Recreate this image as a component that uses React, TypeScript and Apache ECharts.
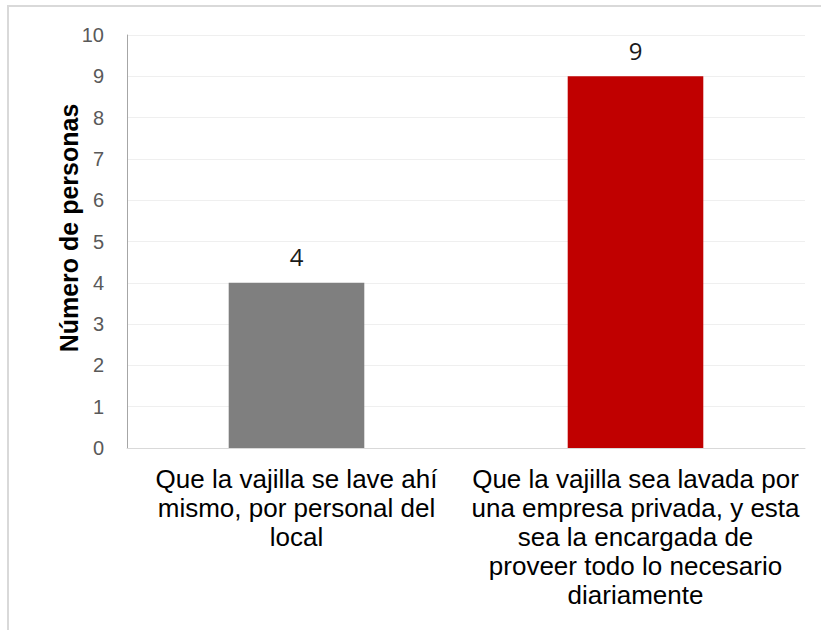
import React, { useEffect, useRef } from "react";
import * as echarts from "echarts";

const categories = [
  "Que la vajilla se lave ahí\nmismo, por personal del\nlocal",
  "Que la vajilla sea lavada por\nuna empresa privada, y esta\nsea la encargada de\nproveer todo lo necesario\ndiariamente",
];
const values = [4, 9];
const barColors = ["#7f7f7f", "#c00000"];
const yAxisTitle = "Número de personas";

export default function App() {
  const ref = useRef<HTMLDivElement>(null);
  useEffect(() => {
    if (!ref.current) return;
    const chart = echarts.init(ref.current, undefined, { renderer: "svg" });
    chart.setOption({
      animation: false,
      backgroundColor: "#ffffff",
      grid: { left: 127, right: 16, top: 35, bottom: 182, containLabel: false },
      graphic: [
        {
          type: "rect",
          shape: { x: 8, y: 6, width: 840, height: 660 },
          style: { fill: "none", stroke: "#d9d9d9", lineWidth: 2 },
          silent: true,
        },
        {
          type: "text",
          x: 69,
          y: 228,
          rotation: Math.PI / 2,
          style: {
            text: yAxisTitle,
            font: "bold 25px 'Liberation Sans', Arial, sans-serif",
            fill: "#000000",
            align: "center",
            verticalAlign: "middle",
          },
        },
      ],
      xAxis: {
        type: "category",
        data: categories,
        axisLine: { show: true, lineStyle: { color: "#d9d9d9", width: 1 } },
        axisTick: { show: false },
        axisLabel: {
          interval: 0,
          margin: 16,
          fontSize: 26,
          lineHeight: 29,
          color: "#000000",
          fontFamily: "'Liberation Sans', Arial, sans-serif",
          align: "center",
        },
      },
      yAxis: {
        type: "value",
        min: 0,
        max: 10,
        interval: 1,
        axisLine: { show: true, lineStyle: { color: "#a6a6a6", width: 1 } },
        axisTick: { show: false },
        splitLine: { show: true, lineStyle: { color: "#efefef", width: 1 } },
        axisLabel: {
          margin: 23,
          fontSize: 20,
          color: "#595959",
          fontFamily: "'Liberation Sans', Arial, sans-serif",
        },
      },
      series: [
        {
          type: "bar",
          barWidth: "40%",
          data: values.map((v, i) => ({ value: v, itemStyle: { color: barColors[i] } })),
          label: {
            show: true,
            position: "top",
            distance: 14,
            fontSize: 24,
            color: "#1a1a1a",
            fontFamily: "'Open Sans', sans-serif",
          },
        },
      ],
    });
    return () => chart.dispose();
  }, []);
  return (
    <div
      ref={ref}
      style={{ position: "absolute", left: 0, top: 0, width: 821, height: 630 }}
    />
  );
}
